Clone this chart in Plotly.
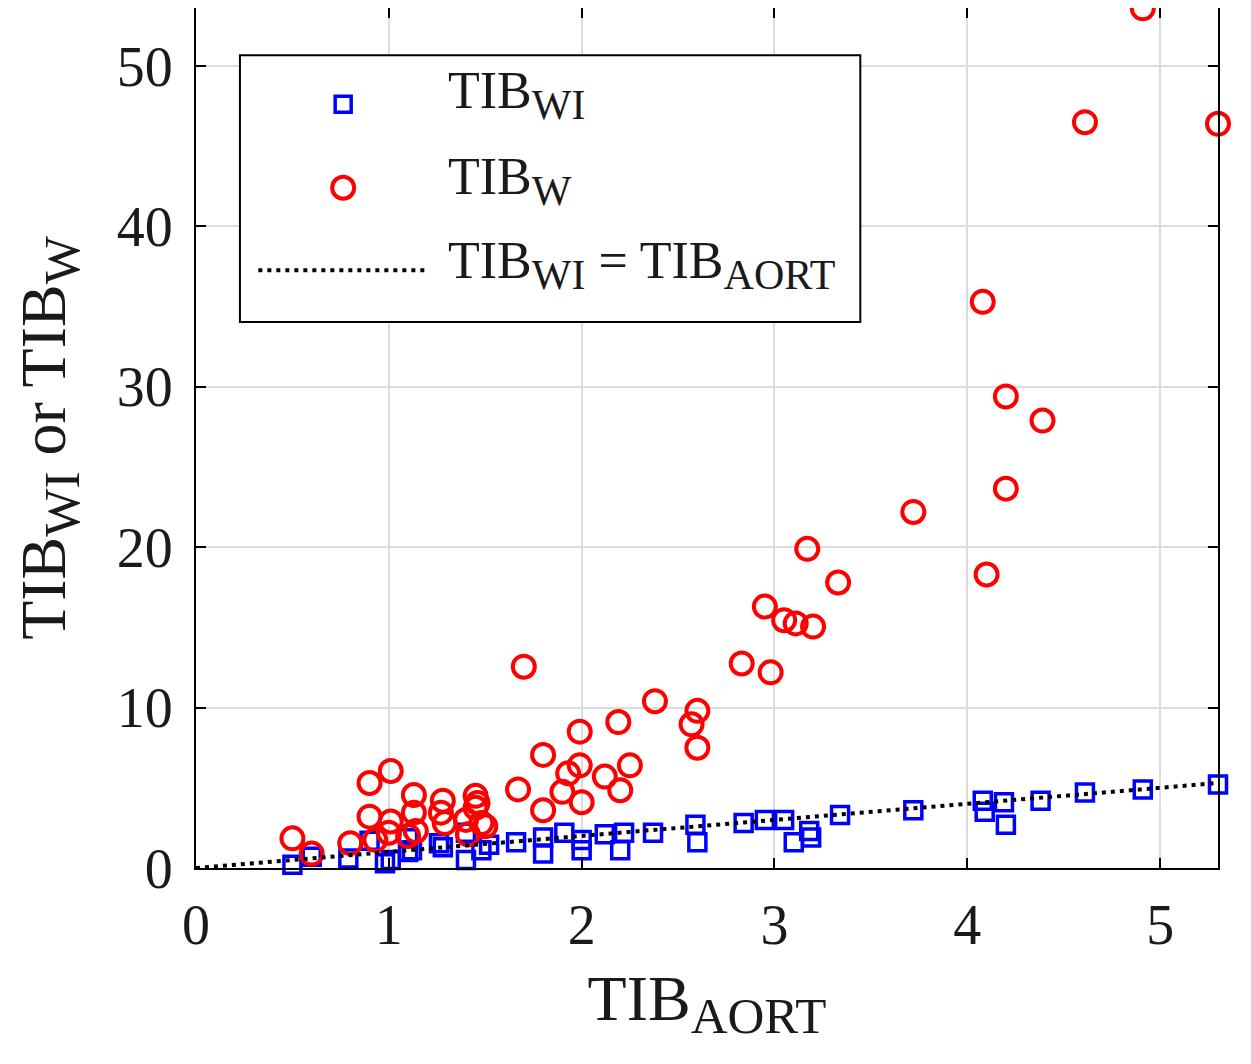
import plotly.graph_objects as go

# TIB_W (red open circles)
w_x = [0.50, 0.60, 0.80, 0.90, 0.90, 0.93, 1.00, 1.01, 1.01, 1.10, 1.13, 1.13, 1.14,
       1.28, 1.27, 1.29, 1.40, 1.41, 1.45, 1.45, 1.46, 1.48, 1.50, 1.67, 1.70, 1.80,
       1.80, 1.90, 1.93, 1.99, 1.99, 2.00, 2.12, 2.19, 2.20, 2.25, 2.38, 2.57, 2.60,
       2.60, 2.83, 2.95, 2.98, 3.05, 3.11, 3.17, 3.20, 3.33, 3.72, 4.08, 4.10, 4.20,
       4.20, 4.39, 4.61, 4.91, 5.30]
w_y = [1.85, 0.90, 1.55, 5.30, 3.20, 1.75, 2.20, 2.90, 6.05, 2.00, 4.55, 3.45, 2.30,
       4.20, 3.45, 2.80, 3.00, 2.10, 4.50, 3.75, 4.05, 2.80, 2.60, 4.90, 12.55, 7.05,
       3.60, 4.75, 5.90, 6.40, 8.50, 4.10, 5.70, 9.10, 4.85, 6.40, 10.40, 8.96, 9.80,
       7.50, 12.75, 16.30, 12.20, 15.45, 15.25, 19.90, 15.05, 17.80, 22.20, 35.30, 18.30, 29.40,
       23.65, 27.90, 46.50, 53.60, 46.40]

# TIB_WI (blue open squares)
wi_x = [0.50, 0.60, 0.79, 0.90, 0.98, 1.01, 1.10, 1.10, 1.12, 1.26, 1.28, 1.40, 1.40,
        1.48, 1.52, 1.66, 1.80, 1.80, 1.91, 2.00, 2.00, 2.12, 2.20, 2.22, 2.37, 2.59,
        2.60, 2.84, 2.95, 3.05, 3.10, 3.18, 3.19, 3.34, 3.72, 4.08, 4.09, 4.19, 4.20,
        4.38, 4.61, 4.91, 5.30]
wi_y = [0.20, 0.70, 0.60, 1.70, 0.30, 0.50, 1.85, 1.00, 1.10, 1.55, 1.30, 0.50, 2.20,
        1.10, 1.45, 1.60, 1.90, 0.90, 2.20, 1.75, 1.10, 2.10, 1.10, 2.20, 2.20, 2.70,
        1.60, 2.80, 3.00, 3.00, 1.60, 2.30, 1.90, 3.30, 3.60, 4.20, 3.50, 4.10, 2.70,
        4.20, 4.70, 4.90, 5.20]

# identity line TIB_WI = TIB_AORT
line_x = [0.0, 5.3]
line_y = [0.0, 5.3]

x_ticks = [0, 1, 2, 3, 4, 5]
y_ticks = [0, 10, 20, 30, 40, 50]

FONT = "Liberation Serif"
TXT = "#1a1a1a"


def sub(s, px):
    return '<sub><span style="font-size:%dpx">%s</span></sub>' % (px, s)


fig = go.Figure()
fig.add_trace(go.Scatter(
    x=wi_x, y=wi_y, mode="markers", name="TIB_WI", cliponaxis=False,
    marker=dict(symbol="square-open", size=17, color="#0000ff", line=dict(width=3.5, color="#0000ff")),
))
fig.add_trace(go.Scatter(
    x=w_x, y=w_y, mode="markers", name="TIB_W", cliponaxis=False,
    marker=dict(symbol="circle-open", size=22, color="#ff0000", line=dict(width=4, color="#ff0000")),
))
fig.add_trace(go.Scatter(
    x=line_x, y=line_y, mode="lines", name="TIB_WI = TIB_AORT",
    line=dict(color="black", width=4, dash="4px,5px"),
))

axis_common = dict(
    showgrid=True, gridcolor="#dcdcdc", gridwidth=1.5,
    showline=True, linecolor="black", linewidth=2, mirror="ticks",
    ticks="inside", ticklen=10, tickwidth=2, tickcolor="black",
    zeroline=False,
    tickfont=dict(family=FONT, size=56, color=TXT),
)

fig.update_xaxes(
    range=[0, 5.3], tickvals=x_ticks, ticktext=[str(t) for t in x_ticks],
    ticklabelstandoff=7,
    title=dict(text="TIB" + sub("AORT", 51), font=dict(family=FONT, size=64, color=TXT), standoff=20),
    **axis_common,
)
fig.update_yaxes(
    range=[0, 53.62], tickvals=y_ticks, ticktext=[str(t) for t in y_ticks],
    ticklabelstandoff=10,
    title=dict(text="TIB" + sub("WI", 51) + " or TIB" + sub("W", 51),
               font=dict(family=FONT, size=64, color=TXT), standoff=30),
    **axis_common,
)

# manual legend box (MATLAB style)
shapes = [
    dict(type="rect", xref="paper", yref="paper", x0=0.043, x1=0.650, y0=0.635, y1=0.945,
         line=dict(color="black", width=2), fillcolor="white", layer="above"),
    dict(type="rect", xref="paper", yref="paper", xsizemode="pixel", ysizemode="pixel",
         xanchor=0.144, yanchor=0.888, x0=-8, x1=8, y0=-8, y1=8,
         line=dict(color="#0000ff", width=3.5), layer="above"),
    dict(type="circle", xref="paper", yref="paper", xsizemode="pixel", ysizemode="pixel",
         xanchor=0.144, yanchor=0.791, x0=-11, x1=11, y0=-11, y1=11,
         line=dict(color="#ff0000", width=4), layer="above"),
    dict(type="line", xref="paper", yref="paper", x0=0.061, x1=0.227, y0=0.695, y1=0.695,
         line=dict(color="black", width=4, dash="4px,5px"), layer="above"),
]
ann_font = dict(family=FONT, size=52, color=TXT)
annotations = [
    dict(xref="paper", yref="paper", x=0.245, y=0.899, text="TIB" + sub("WI", 42), showarrow=False,
         xanchor="left", yanchor="middle", font=ann_font),
    dict(xref="paper", yref="paper", x=0.245, y=0.799, text="TIB" + sub("W", 42), showarrow=False,
         xanchor="left", yanchor="middle", font=ann_font),
    dict(xref="paper", yref="paper", x=0.245, y=0.701,
         text="TIB" + sub("WI", 42) + " = TIB" + sub("AORT", 42),
         showarrow=False, xanchor="left", yanchor="middle", font=ann_font),
]

fig.update_layout(
    width=1243, height=1056,
    margin=dict(l=188, r=33, t=0, b=196, autoexpand=False),
    paper_bgcolor="white", plot_bgcolor="white",
    showlegend=False,
    shapes=shapes, annotations=annotations,
)

fig.write_html("out.html")
